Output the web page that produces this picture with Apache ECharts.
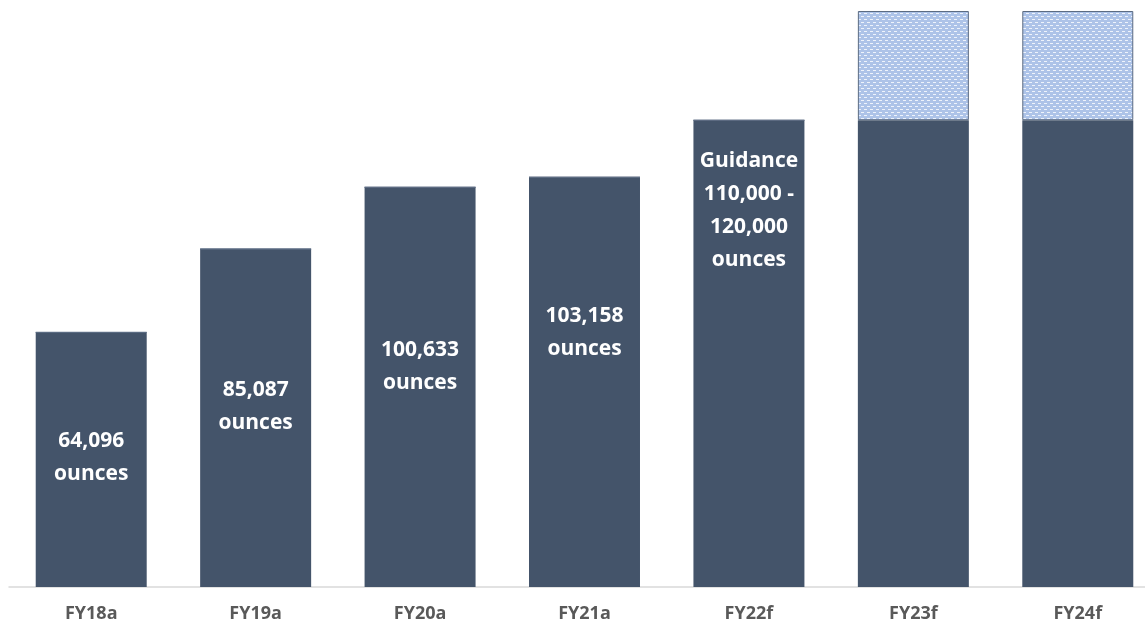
<!DOCTYPE html>
<html>
<head>
<meta charset="utf-8">
<script src="https://cdn.jsdelivr.net/npm/echarts@6/dist/echarts.min.js"></script>
<style>
  html, body { margin: 0; padding: 0; background: #fff; overflow: hidden; }
  #main { width: 1161px; height: 628px; }
</style>
</head>
<body>
<div id="main"></div>
<script>
  // data
  const years = ['FY18a', 'FY19a', 'FY20a', 'FY21a', 'FY22f', 'FY23f', 'FY24f'];
  const ounces = [64096, 85087, 100633, 103158, 117500, 117500, 117500];
  const upside = [0, 0, 0, 0, 0, 27500, 27500];
  const labels = [
    '64,096\nounces',
    '85,087\nounces',
    '100,633\nounces',
    '103,158\nounces',
    'Guidance\n110,000 -\n120,000\nounces',
    '',
    ''
  ];

  // how far down from the bar top each label sits
  const labelDist = [92, 125, 146, 122, 24, 0, 0];

  function hatch() {
    let c = document.createElement('canvas');
    c.width = 6;
    c.height = 6;
    let ctx = c.getContext('2d');
    ctx.fillStyle = '#adc3e8';
    ctx.fillRect(0, 0, 6, 6);
    ctx.fillStyle = '#eef3fb';
    ctx.fillRect(0, 1, 3, 1);
    ctx.fillRect(3, 4, 3, 1);
    return c;
  }

  // the plot runs a little past the right edge of the window, as in the source
  let chart = echarts.init(document.getElementById('main'));
  let option = {
    animation: false,
    grid: { left: 9, right: 1, top: 11, bottom: 41 },
    xAxis: {
      type: 'category',
      data: years,
      axisLine: { lineStyle: { color: '#d9d9d9', width: 1.5 } },
      axisTick: { show: false },
      axisLabel: {
        margin: 18,
        color: '#595959',
        fontFamily: 'Open Sans',
        fontWeight: 'bold',
        fontSize: 18
      }
    },
    yAxis: {
      type: 'value',
      min: 0,
      max: 145000,
      show: false,
      splitLine: { show: false }
    },
    series: [
      {
        type: 'bar',
        stack: 'oz',
        barWidth: '67.5%',
        itemStyle: { color: '#44546a' },
        data: ounces.map((v, i) => ({
          value: v,
          label: {
            show: labels[i] !== '',
            position: 'insideTop',
            distance: labelDist[i],
            formatter: labels[i],
            color: '#ffffff',
            fontFamily: 'Open Sans',
            fontWeight: 'bold',
            fontSize: 21,
            lineHeight: 33
          }
        }))
      },
      {
        type: 'bar',
        stack: 'oz',
        barWidth: '67.5%',
        itemStyle: {
          color: { image: hatch(), repeat: 'repeat' },
          borderColor: '#5b6b82',
          borderWidth: 1
        },
        data: upside
      }
    ]
  };
  chart.setOption(option);
</script>
</body>
</html>
